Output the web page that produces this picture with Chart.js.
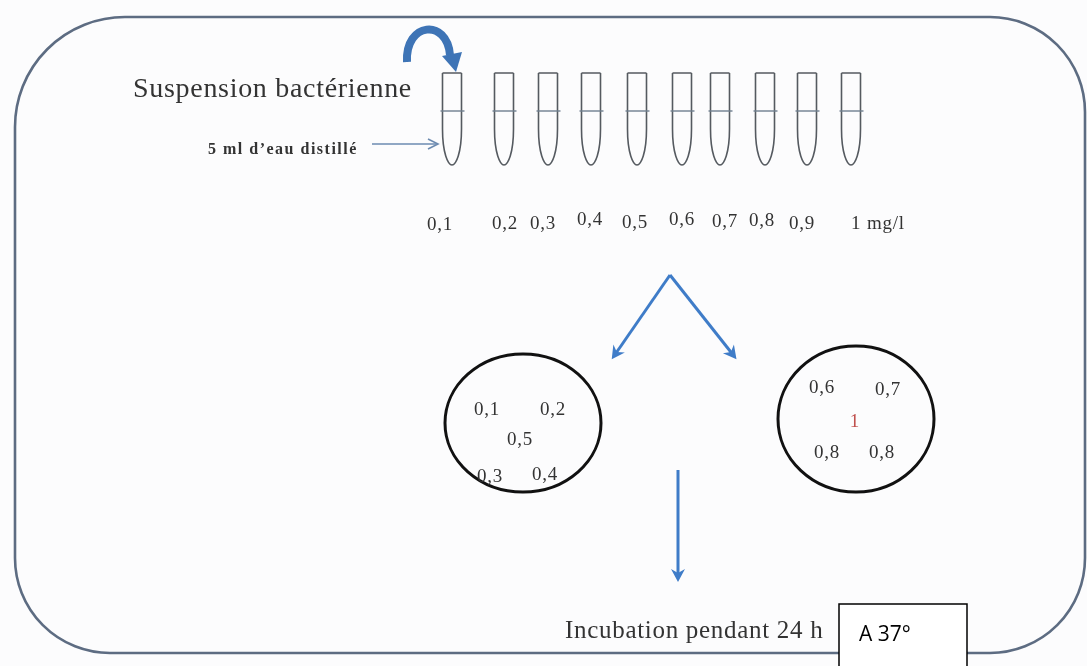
<!DOCTYPE html>
<html>
<head>
<meta charset="utf-8">
<script src="https://cdn.jsdelivr.net/npm/chart.js@4"></script>
<style>
  html, body { margin: 0; padding: 0; background: #ffffff; }
  #schema { display: block; }
</style>
</head>
<body>
<canvas id="schema" width="1087" height="666"></canvas>
<script>
// Concentrations des tubes (mg/l)
const concentrations = ['0,1', '0,2', '0,3', '0,4', '0,5', '0,6', '0,7', '0,8', '0,9', '1 mg/l'];
// position de chaque tube et de son etiquette sur l'axe du schema
const tubeX = [452, 504, 548, 591, 637, 682, 720, 765, 807, 851];
const labelX = [440, 505, 543, 590, 635, 682, 725, 762, 802, 878];
const labelY = [230, 229, 229, 225, 228, 225, 227, 226, 229, 229];

// boites de petri : concentrations regroupees
const boiteGauche = ['0,1', '0,2', '0,5', '0,3', '0,4'];
const boiteGaucheX = [487, 553, 520, 490, 545];
const boiteGaucheY = [415, 415, 445, 482, 480];
const boiteDroite = ['0,6', '0,7', '1', '0,8', '0,8'];
const boiteDroiteX = [822, 888, 855, 827, 882];
const boiteDroiteY = [393, 395, 427, 458, 458];

// fleches (debut -> fin)
const flecheEau = [[372, 144], [437, 144]];
const flecheGauche = [[670, 275], [614, 356]];
const flecheDroite = [[670, 275], [734, 356]];
const flecheBas = [[678, 470], [678, 578]];

const SERIF = '"Liberation Serif", "DejaVu Serif", serif';

// dessin d'un tube (sert de pointStyle)
function dessinTube() {
  const c = document.createElement('canvas');
  c.width = 32;
  c.height = 96;
  const ctx = c.getContext('2d');
  const l = 6.5, r = 25.5, m = 16;
  ctx.strokeStyle = '#555a60';
  ctx.lineWidth = 1.6;
  ctx.beginPath();
  ctx.moveTo(l, 2);
  ctx.lineTo(r, 2);
  ctx.moveTo(l, 2);
  ctx.lineTo(l, 58);
  ctx.bezierCurveTo(l, 82, m - 4, 94, m, 94);
  ctx.bezierCurveTo(m + 4, 94, r, 82, r, 58);
  ctx.lineTo(r, 2);
  ctx.stroke();
  ctx.strokeStyle = '#6f7f8f';
  ctx.lineWidth = 1.4;
  ctx.beginPath();
  ctx.moveTo(l - 2, 40);
  ctx.lineTo(r + 3, 40);
  ctx.stroke();
  return c;
}

function segment(pts, couleur, epaisseur, tete) {
  return {
    type: 'scatter',
    data: pts.map(p => ({ x: p[0], y: p[1] })),
    showLine: true,
    borderColor: couleur,
    borderWidth: epaisseur,
    pointRadius: 0,
    fill: false,
    tete: tete
  };
}

const schemaPlugin = {
  id: 'schema',
  beforeDatasetsDraw(chart) {
    const ctx = chart.ctx;
    const sx = chart.scales.x, sy = chart.scales.y;
    const px = v => sx.getPixelForValue(v);
    const py = v => sy.getPixelForValue(v);

    ctx.save();
    ctx.fillStyle = '#fcfcfd';
    ctx.fillRect(0, 0, chart.width, chart.height);

    // cadre arrondi
    ctx.strokeStyle = '#5d6c82';
    ctx.lineWidth = 2.6;
    ctx.beginPath();
    ctx.roundRect(px(15), py(17), px(1085) - px(15), py(653) - py(17), [110, 95, 95, 95]);
    ctx.stroke();

    // boites de petri
    ctx.strokeStyle = '#111';
    ctx.lineWidth = 3;
    ctx.beginPath();
    ctx.ellipse(px(523), py(423), px(601) - px(523), py(492) - py(423), 0, 0, Math.PI * 2);
    ctx.stroke();
    ctx.beginPath();
    ctx.ellipse(px(856), py(419), px(934) - px(856), py(492) - py(419), 0, 0, Math.PI * 2);
    ctx.stroke();

    // fleche courbe au-dessus du premier tube
    ctx.strokeStyle = '#3e74b6';
    ctx.lineWidth = 8;
    ctx.lineCap = 'butt';
    ctx.beginPath();
    ctx.moveTo(px(407), py(62));
    ctx.bezierCurveTo(px(405), py(22), px(447), py(18), px(450), py(55));
    ctx.stroke();
    ctx.fillStyle = '#3e74b6';
    ctx.beginPath();
    ctx.moveTo(px(442), py(56));
    ctx.lineTo(px(462), py(52));
    ctx.lineTo(px(456), py(72));
    ctx.closePath();
    ctx.fill();
    ctx.restore();
  },
  afterDatasetsDraw(chart) {
    const ctx = chart.ctx;
    const sx = chart.scales.x, sy = chart.scales.y;
    const px = v => sx.getPixelForValue(v);
    const py = v => sy.getPixelForValue(v);

    // pointes de fleches
    chart.data.datasets.forEach((ds, i) => {
      if (!ds.tete) return;
      const pts = chart.getDatasetMeta(i).data;
      const a = pts[pts.length - 2], b = pts[pts.length - 1];
      const ang = Math.atan2(b.y - a.y, b.x - a.x);
      ctx.save();
      ctx.translate(b.x, b.y);
      ctx.rotate(ang);
      ctx.fillStyle = ds.borderColor;
      ctx.strokeStyle = ds.borderColor;
      if (ds.tete === 'ouverte') {
        ctx.lineWidth = 1.6;
        ctx.beginPath();
        ctx.moveTo(-9, -5);
        ctx.lineTo(1, 0);
        ctx.lineTo(-9, 5);
        ctx.stroke();
      } else {
        ctx.beginPath();
        ctx.moveTo(4, 0);
        ctx.lineTo(-9, -7);
        ctx.lineTo(-5, 0);
        ctx.lineTo(-9, 7);
        ctx.closePath();
        ctx.fill();
      }
      ctx.restore();
    });

    ctx.save();
    ctx.textBaseline = 'alphabetic';
    ctx.fillStyle = '#333333';

    ctx.textAlign = 'left';
    ctx.font = '28px ' + SERIF;
    ctx.letterSpacing = '0.7px';
    ctx.fillText('Suspension bactérienne', px(133), py(97));
    ctx.font = 'bold 16px ' + SERIF;
    ctx.letterSpacing = '1.5px';
    ctx.fillText('5 ml d\u2019eau distillé', px(208), py(154));

    ctx.textAlign = 'center';
    ctx.font = '19px ' + SERIF;
    ctx.letterSpacing = '0.8px';
    concentrations.forEach((c, i) => ctx.fillText(c, px(labelX[i]), py(labelY[i])));
    boiteGauche.forEach((c, i) => ctx.fillText(c, px(boiteGaucheX[i]), py(boiteGaucheY[i])));
    boiteDroite.forEach((c, i) => {
      ctx.fillStyle = c === '1' ? '#c0504d' : '#333333';
      ctx.fillText(c, px(boiteDroiteX[i]), py(boiteDroiteY[i]));
    });

    ctx.fillStyle = '#333333';
    ctx.textAlign = 'left';
    ctx.font = '25px ' + SERIF;
    ctx.letterSpacing = '0.7px';
    ctx.fillText('Incubation pendant 24 h', px(565), py(638));
    ctx.letterSpacing = '0px';

    // encadre de temperature
    ctx.fillStyle = '#ffffff';
    ctx.fillRect(px(839), py(604), px(967) - px(839), py(672) - py(604));
    ctx.strokeStyle = '#000';
    ctx.lineWidth = 1.5;
    ctx.strokeRect(px(839), py(604), px(967) - px(839), py(672) - py(604));
    ctx.fillStyle = '#000';
    ctx.font = '21px "Open Sans", sans-serif';
    ctx.fillText('A 37°', px(859), py(641));
    ctx.restore();
  }
};

new Chart(document.getElementById('schema'), {
  type: 'scatter',
  data: {
    datasets: [
      {
        label: 'tubes',
        data: tubeX.map(x => ({ x: x, y: 119 })),
        pointStyle: dessinTube(),
        pointRadius: 10
      },
      segment(flecheEau, '#6d8bb0', 1.6, 'ouverte'),
      segment(flecheGauche, '#3f7cc8', 3, 'pleine'),
      segment(flecheDroite, '#3f7cc8', 3, 'pleine'),
      segment(flecheBas, '#3f7cc8', 3, 'pleine')
    ]
  },
  options: {
    responsive: false,
    animation: false,
    events: [],
    layout: { padding: 0, autoPadding: false },
    plugins: {
      legend: { display: false },
      tooltip: { enabled: false }
    },
    scales: {
      x: { type: 'linear', min: 0, max: 1087, display: false },
      y: { type: 'linear', min: 0, max: 666, reverse: true, display: false }
    }
  },
  plugins: [schemaPlugin]
});
</script>
</body>
</html>
